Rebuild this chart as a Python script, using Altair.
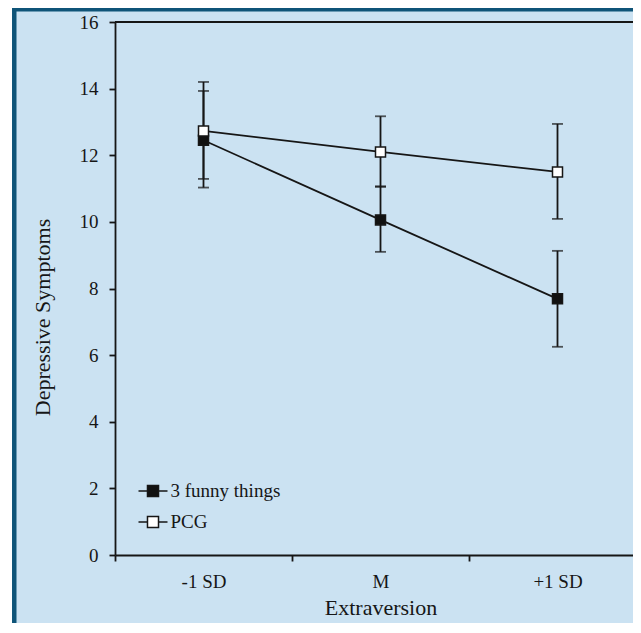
import altair as alt
import pandas as pd

levels = ["-1 SD", "M", "+1 SD"]
groups = ["3 funny things", "PCG"]

funny_mean = [12.45, 10.06, 7.69]
funny_lo = [11.03, 9.10, 6.25]
funny_hi = [13.93, 11.07, 9.13]

pcg_mean = [12.73, 12.10, 11.50]
pcg_lo = [11.29, 11.05, 10.09]
pcg_hi = [14.20, 13.17, 12.94]

y_ticks = [0, 2, 4, 6, 8, 10, 12, 14, 16]

rows = []
for g, m, lo, hi in [(groups[0], funny_mean, funny_lo, funny_hi),
                     (groups[1], pcg_mean, pcg_lo, pcg_hi)]:
    for lv, mv, lv_lo, lv_hi in zip(levels, m, lo, hi):
        rows.append({"level": lv, "group": g, "mean": mv, "lo": lv_lo, "hi": lv_hi})
df = pd.DataFrame(rows)

FONT = "Liberation Serif"
INK = "#161616"
BG = "#cbe2f2"
BORDER = "#0f5478"

xscale = alt.Scale(type="band", domain=levels, range=[0, 531], paddingInner=0, paddingOuter=0)
yscale = alt.Scale(domain=[0, 16], nice=False)

x_enc = alt.X("level:N", scale=xscale, sort=levels,
              axis=alt.Axis(title="Extraversion", tickBand="extent", labelAngle=0,
                            tickSize=6, tickWidth=1.8, tickColor=INK,
                            domainColor=INK, domainWidth=1.8,
                            labelFont=FONT, labelFontSize=19, labelColor=INK,
                            labelPadding=11, titleFont=FONT, titleFontSize=22,
                            titleFontWeight="normal", titleColor=INK,
                            titleBaseline="alphabetic", titleY=59,
                            grid=False, zindex=2))
y_axis = alt.Axis(title="Depressive Symptoms", values=y_ticks, tickSize=6, tickWidth=1.8,
                  tickColor=INK, domainColor=INK, domainWidth=1.8,
                  labelFont=FONT, labelFontSize=19, labelColor=INK, labelPadding=11,
                  titleFont=FONT, titleFontSize=22, titleFontWeight="normal",
                  titleColor=INK, titleAngle=270, titleAlign="center",
                  titleBaseline="alphabetic", titleX=-66, titleY=295,
                  grid=False, zindex=2)

base = alt.Chart(df)

panel = base.mark_rect(fill=BG, stroke=BORDER, strokeWidth=4).encode(
    x=alt.value(-100.5), x2=alt.value(700), y=alt.value(-12.5), y2=alt.value(700)
)

top_line = base.mark_rule(color=INK, strokeWidth=1.8).encode(
    x=alt.value(0), x2=alt.value(531), y=alt.value(0)
)

lines = base.mark_line(color=INK, strokeWidth=1.8).encode(
    x=x_enc,
    y=alt.Y("mean:Q", scale=yscale, axis=y_axis),
    detail="group:N",
)

err = base.mark_rule(color=INK, strokeWidth=1.8).encode(
    x=alt.X("level:N", scale=xscale, sort=levels),
    y=alt.Y("lo:Q", scale=yscale),
    y2="hi:Q",
)

cap_lo = base.mark_tick(color=INK, orient="horizontal", size=11, thickness=1.8).encode(
    x=alt.X("level:N", scale=xscale, sort=levels),
    y=alt.Y("lo:Q", scale=yscale),
)
cap_hi = base.mark_tick(color=INK, orient="horizontal", size=11, thickness=1.8).encode(
    x=alt.X("level:N", scale=xscale, sort=levels),
    y=alt.Y("hi:Q", scale=yscale),
)

legend_path = "M-1,0H-0.38M0.38,0H1M-0.38,-0.38H0.38V0.38H-0.38Z"
points = base.mark_square(size=100, stroke=INK, strokeWidth=1.5, opacity=1, fillOpacity=1).encode(
    x=alt.X("level:N", scale=xscale, sort=levels),
    y=alt.Y("mean:Q", scale=yscale),
    fill=alt.Fill("group:N",
                  scale=alt.Scale(domain=groups, range=["#111111", "#ffffff"]),
                  legend=alt.Legend(title=None, orient="none", legendX=22.5, legendY=453.5,
                                    symbolType=legend_path, symbolSize=841,
                                    symbolStrokeColor=INK, symbolStrokeWidth=1.5,
                                    labelFont=FONT, labelFontSize=19, labelColor=INK,
                                    labelOffset=2, rowPadding=5, padding=0)),
)

chart = alt.layer(panel, top_line, lines, err, cap_lo, cap_hi, points).properties(
    width=518, height=533,
    autosize=alt.AutoSizeParams(type="none"),
    padding={"left": 107, "top": 14, "right": 0, "bottom": 68},
    background="#ffffff",
).configure_view(stroke=None)

chart.save("out.html", embed_options={"renderer": "svg", "actions": False})
